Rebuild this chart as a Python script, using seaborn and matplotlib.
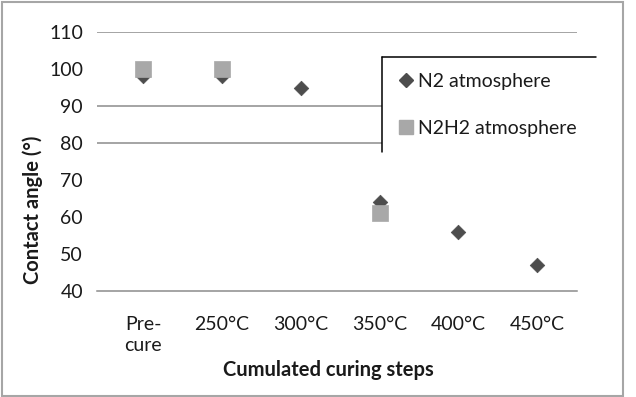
import numpy as np
import pandas as pd
import matplotlib
matplotlib.use("Agg")
import matplotlib.pyplot as plt
from matplotlib.lines import Line2D
from matplotlib.patches import Rectangle
import seaborn as sns

categories = ["Pre-\ncure", "250°C", "300°C", "350°C", "400°C", "450°C"]
n2_values = [98, 98, 95, 64, 56, 47]
n2h2_values = [100, 100, np.nan, 61, np.nan, np.nan]
series_names = ["N2 atmosphere", "N2H2 atmosphere"]
y_ticks = [40, 50, 60, 70, 80, 90, 100, 110]
grid_values = [110, 90, 80]

sns.set_theme(style="white")
plt.rcParams["font.family"] = ["Lato", "DejaVu Sans"]

df_n2 = pd.DataFrame({"pos": np.arange(len(categories)), "value": n2_values})
df_n2h2 = pd.DataFrame({"pos": np.arange(len(categories)), "value": n2h2_values}).dropna()

fig = plt.figure(figsize=(6.36, 3.97), dpi=100)
W, H = 636, 397
ax = fig.add_axes([97 / W, 1 - 291 / H, (577 - 97) / W, (291 - 32) / H])

dark = "#4d4d4d"
light = "#a8a8a8"
grid_c = "#8c8c8c"
text_c = "#1a1a1a"
fs = 14

sns.scatterplot(data=df_n2, x="pos", y="value", marker="D", s=55, color=dark,
                edgecolor=dark, linewidth=0.5, ax=ax, zorder=3, legend=False)
sns.scatterplot(data=df_n2h2, x="pos", y="value", marker="s", s=120, color=light,
                edgecolor=light, linewidth=0.5, ax=ax, zorder=4, legend=False)

ax.set_xlim(-0.585, 5.505)
ax.set_ylim(40, 110)
for gv in grid_values:
    ax.axhline(gv, color=grid_c, lw=1.1, zorder=1)

for s in ["top", "right", "left"]:
    ax.spines[s].set_visible(False)
ax.spines["bottom"].set_color(grid_c)
ax.spines["bottom"].set_linewidth(1.1)

ax.set_yticks(y_ticks)
ax.set_yticklabels([str(t) for t in y_ticks])
ax.tick_params(axis="y", length=0, pad=10, labelsize=fs, labelcolor=text_c)
ax.set_xticks(np.arange(len(categories)))
ax.set_xticklabels(categories, linespacing=1.3)
ax.tick_params(axis="x", which="major", length=0, pad=18, labelsize=fs, labelcolor=text_c)
ax.set_xticks([1.5, 3.5], minor=True)
ax.tick_params(axis="x", which="minor", length=5, width=1, color=grid_c, direction="out")
ax.set_xlabel("")
ax.set_ylabel("")

fig.text(33 / W, 1 - 210 / H, "Contact angle (°)", rotation=90, ha="center", va="center",
         fontsize=fs + 0.5, fontweight="bold", color=text_c)
fig.text(328 / W, 1 - 370 / H, "Cumulated curing steps", ha="center", va="center",
         fontsize=fs + 0.5, fontweight="bold", color=text_c)

# legend box (white, top & left border)
fig.patches.append(Rectangle((382 / W, 1 - 152 / H), (600 - 382) / W, (152 - 57) / H,
                             transform=fig.transFigure, facecolor="white", edgecolor="none",
                             zorder=5))
fig.lines.append(Line2D([382 / W, 596 / W], [1 - 57 / H, 1 - 57 / H], transform=fig.transFigure,
                        color="black", lw=1.1, zorder=6))
fig.lines.append(Line2D([382 / W, 382 / W], [1 - 57 / H, 1 - 152 / H], transform=fig.transFigure,
                        color="black", lw=1.1, zorder=6))

handles = [Line2D([], [], marker="D", ls="none", markersize=7, color=dark),
           Line2D([], [], marker="s", ls="none", markersize=10, color=light)]
leg = fig.legend(handles, series_names, loc="upper left",
                 bbox_to_anchor=(389 / W, 1 - 63 / H), bbox_transform=fig.transFigure,
                 frameon=False, fontsize=fs, handlelength=0.7, handletextpad=0.3,
                 labelspacing=1.55, borderpad=0)
for t in leg.get_texts():
    t.set_color(text_c)
leg.set_zorder(7)

# outer chart border
fig.patches.append(Rectangle((2 / W, 1 - 396 / H), (623 - 2) / W, (396 - 2) / H,
                             transform=fig.transFigure, facecolor="none", edgecolor="#a6a6a6",
                             lw=1.5, zorder=8))

fig.savefig("out.png", dpi=100)
